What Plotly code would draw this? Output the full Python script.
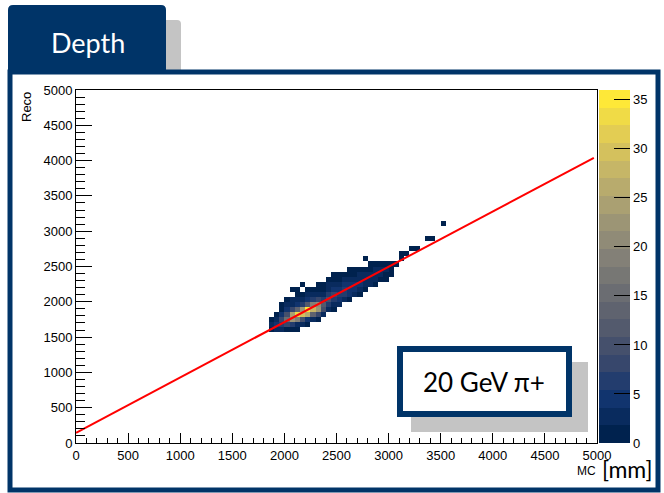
import plotly.graph_objects as go
from plotly.colors import sample_colorscale

W, H = 664, 493
L, R, T, B = 76, 597, 90, 443  # plot area in pixels

# ---------------- data ----------------
x_range = [0, 5000]
y_range = [0, 5000]
x_bin_width = 50
y_nbins = 70

# MC bin centres of the filled columns
col_x = [1875, 1925, 1975, 2025, 2075, 2125, 2175, 2225, 2275, 2325,
         2375, 2425, 2475, 2525, 2575, 2625, 2675, 2725, 2775, 2825,
         2875, 2925, 2975, 3025, 3075, 3125, 3175, 3225, 3275, 3375,
         3425, 3525]
# first Reco bin index of each column
col_k0 = [22, 22, 22, 22, 22, 22, 23, 23, 24, 24,
          25, 26, 26, 27, 28, 28, 29, 29, 30, 31,
          31, 32, 32, 33, 35, 36, 37, 38, 38, 40,
          40, 43]
# counts going upward in Reco from the first bin
col_counts = [
    [1, 2, 1],
    [2, 4, 3, 1],
    [2, 6, 8, 4, 1, 1],
    [1, 8, 16, 10, 4, 2, 1],
    [1, 6, 22, 24, 8, 3, 2, 0, 1],
    [1, 3, 18, 33, 14, 5, 2, 1, 1],
    [2, 10, 30, 22, 7, 3, 1, 0, 1],
    [1, 5, 26, 35, 12, 4, 2, 1],
    [3, 14, 28, 18, 6, 2, 1],
    [1, 8, 22, 20, 8, 3, 1, 1],
    [3, 10, 12, 6, 3, 1, 1],
    [2, 7, 9, 7, 3, 2, 1],
    [1, 3, 7, 8, 5, 2, 1, 1],
    [2, 5, 7, 5, 3, 1, 1],
    [3, 6, 6, 4, 2, 1],
    [1, 4, 5, 4, 2, 1, 1],
    [2, 4, 4, 3, 1, 1],
    [1, 2, 4, 3, 2, 1],
    [1, 3, 3, 2, 1, 0, 1],
    [2, 3, 2, 1, 1],
    [1, 2, 2, 2, 1],
    [1, 2, 2, 1],
    [1, 1, 2, 1],
    [1, 1, 1],
    [1],
    [1, 1],
    [1],
    [1],
    [1],
    [1],
    [1],
    [1],
]

# fitted line end points
line_x = [0, 4970]
line_y = [145, 4040]

axis_ticks = [0, 500, 1000, 1500, 2000, 2500, 3000, 3500, 4000, 4500, 5000]
cbar_ticks = [0, 5, 10, 15, 20, 25, 30, 35]
z_max = 36

title_text = "Depth"
label_text = "20 GeV π+"
x_title = "MC"
x_unit = "[mm]"
y_title = "Reco"

# ---------------- build histogram grid ----------------
nx = int((x_range[1] - x_range[0]) / x_bin_width)
y_bin_width = (y_range[1] - y_range[0]) / y_nbins
z = [[None] * nx for _ in range(y_nbins)]
for cx, k0, counts in zip(col_x, col_k0, col_counts):
    i = int(cx // x_bin_width)
    for j, c in enumerate(counts):
        if c > 0:
            z[k0 + j][i] = c
xc = [x_range[0] + (i + 0.5) * x_bin_width for i in range(nx)]
yc = [y_range[0] + (k + 0.5) * y_bin_width for k in range(y_nbins)]

# stepped cividis palette (ROOT style contours)
nlev = 20
cols = sample_colorscale("cividis", [i / (nlev - 1) for i in range(nlev)])
cscale = []
for i, c in enumerate(cols):
    cscale.append([i / nlev, c])
    cscale.append([(i + 1) / nlev, c])

fig = go.Figure()
fig.add_trace(go.Heatmap(
    x=xc, y=yc, z=z, zmin=0, zmax=z_max, colorscale=cscale,
    hoverinfo="skip", showscale=True,
    colorbar=dict(
        x=(599 - L) / (R - L), xanchor="left", y=0.5, yanchor="middle",
        len=1, lenmode="fraction", thickness=31, thicknessmode="pixels",
        outlinewidth=0, xpad=0, ypad=0,
        tickmode="array", tickvals=cbar_ticks, ticks="inside",
        ticklen=16, tickcolor="black", tickwidth=1,
        tickfont=dict(family="Liberation Sans", size=13, color="black"),
    ),
))
fig.add_trace(go.Scatter(x=line_x, y=line_y, mode="lines",
                         line=dict(color="#ff0000", width=2),
                         hoverinfo="skip", showlegend=False))

NAVY = "#003468"
GREY = "#c4c4c4"


def px(X):
    return (X - L) / (R - L)


def py(Y):
    return (B - Y) / (B - T)


def rounded_rect_top(x0, y0, x1, y1, r):
    # pixel coords, y0 top, y1 bottom; rounded top corners
    return (f"M {px(x0)},{py(y1)} L {px(x0)},{py(y0 + r)} "
            f"Q {px(x0)},{py(y0)} {px(x0 + r)},{py(y0)} "
            f"L {px(x1 - r)},{py(y0)} "
            f"Q {px(x1)},{py(y0)} {px(x1)},{py(y0 + r)} "
            f"L {px(x1)},{py(y1)} Z")


shapes = [
    # grey back tab
    dict(type="path", xref="paper", yref="paper",
         path=rounded_rect_top(150, 20, 181, 72, 4),
         fillcolor=GREY, line=dict(width=0), layer="below"),
    # navy title tab
    dict(type="path", xref="paper", yref="paper",
         path=rounded_rect_top(8, 5, 166, 72, 5),
         fillcolor=NAVY, line=dict(width=0), layer="below"),
    # frame
    dict(type="rect", xref="paper", yref="paper",
         x0=px(10), x1=px(658), y0=py(72), y1=py(490),
         line=dict(color=NAVY, width=5), fillcolor="rgba(0,0,0,0)",
         layer="below"),
    # label box shadow
    dict(type="rect", xref="paper", yref="paper",
         x0=px(411), x1=px(588), y0=py(362), y1=py(432),
         line=dict(width=0), fillcolor=GREY, layer="above"),
    # label box
    dict(type="rect", xref="paper", yref="paper",
         x0=px(400), x1=px(569), y0=py(349), y1=py(414),
         line=dict(color=NAVY, width=6), fillcolor="white", layer="above"),
]

annotations = [
    dict(text=title_text, xref="paper", yref="paper", x=px(88), y=py(42),
         xanchor="center", yanchor="middle", showarrow=False,
         font=dict(family="Lato", size=27, color="white")),
    dict(text=label_text, xref="paper", yref="paper", x=px(484), y=py(382),
         xanchor="center", yanchor="middle", showarrow=False,
         font=dict(family="Lato", size=26, color="black")),
    dict(text=y_title, xref="paper", yref="paper", x=px(26), y=py(90),
         xanchor="center", yanchor="top", textangle=-90, showarrow=False,
         font=dict(family="Liberation Sans", size=13, color="black")),
    dict(text=x_title, xref="paper", yref="paper", x=px(598), y=py(471),
         xanchor="right", yanchor="middle", showarrow=False,
         font=dict(family="Liberation Sans", size=12, color="black")),
    dict(text=x_unit, xref="paper", yref="paper", x=px(600), y=py(469),
         xanchor="left", yanchor="middle", showarrow=False,
         font=dict(family="Lato", size=23, color="black")),
]

axis_common = dict(
    showgrid=False, zeroline=False, showline=True, linecolor="black",
    linewidth=1, mirror=True, ticks="inside", tickcolor="black",
    tickwidth=1, tickmode="array", tickvals=axis_ticks, automargin=False,
    tickfont=dict(family="Liberation Sans", size=13, color="black"),
)

fig.update_layout(
    width=W, height=H,
    margin=dict(l=L, r=W - R, t=T, b=H - B, pad=0, autoexpand=False),
    paper_bgcolor="white", plot_bgcolor="white",
    showlegend=False,
    xaxis=dict(range=x_range, ticklen=10,
               minor=dict(dtick=100, ticks="inside", ticklen=5,
                          tickcolor="black", showgrid=False),
               **axis_common),
    yaxis=dict(range=y_range, ticklen=16,
               minor=dict(dtick=100, ticks="inside", ticklen=9,
                          tickcolor="black", showgrid=False),
               **axis_common),
    shapes=shapes, annotations=annotations,
)

fig.write_html(
    "out.html",
    config={"displayModeBar": False},
    post_script="document.body.style.margin='0px';"
                "document.body.style.padding='0px';"
                "document.body.style.overflow='hidden';",
)
